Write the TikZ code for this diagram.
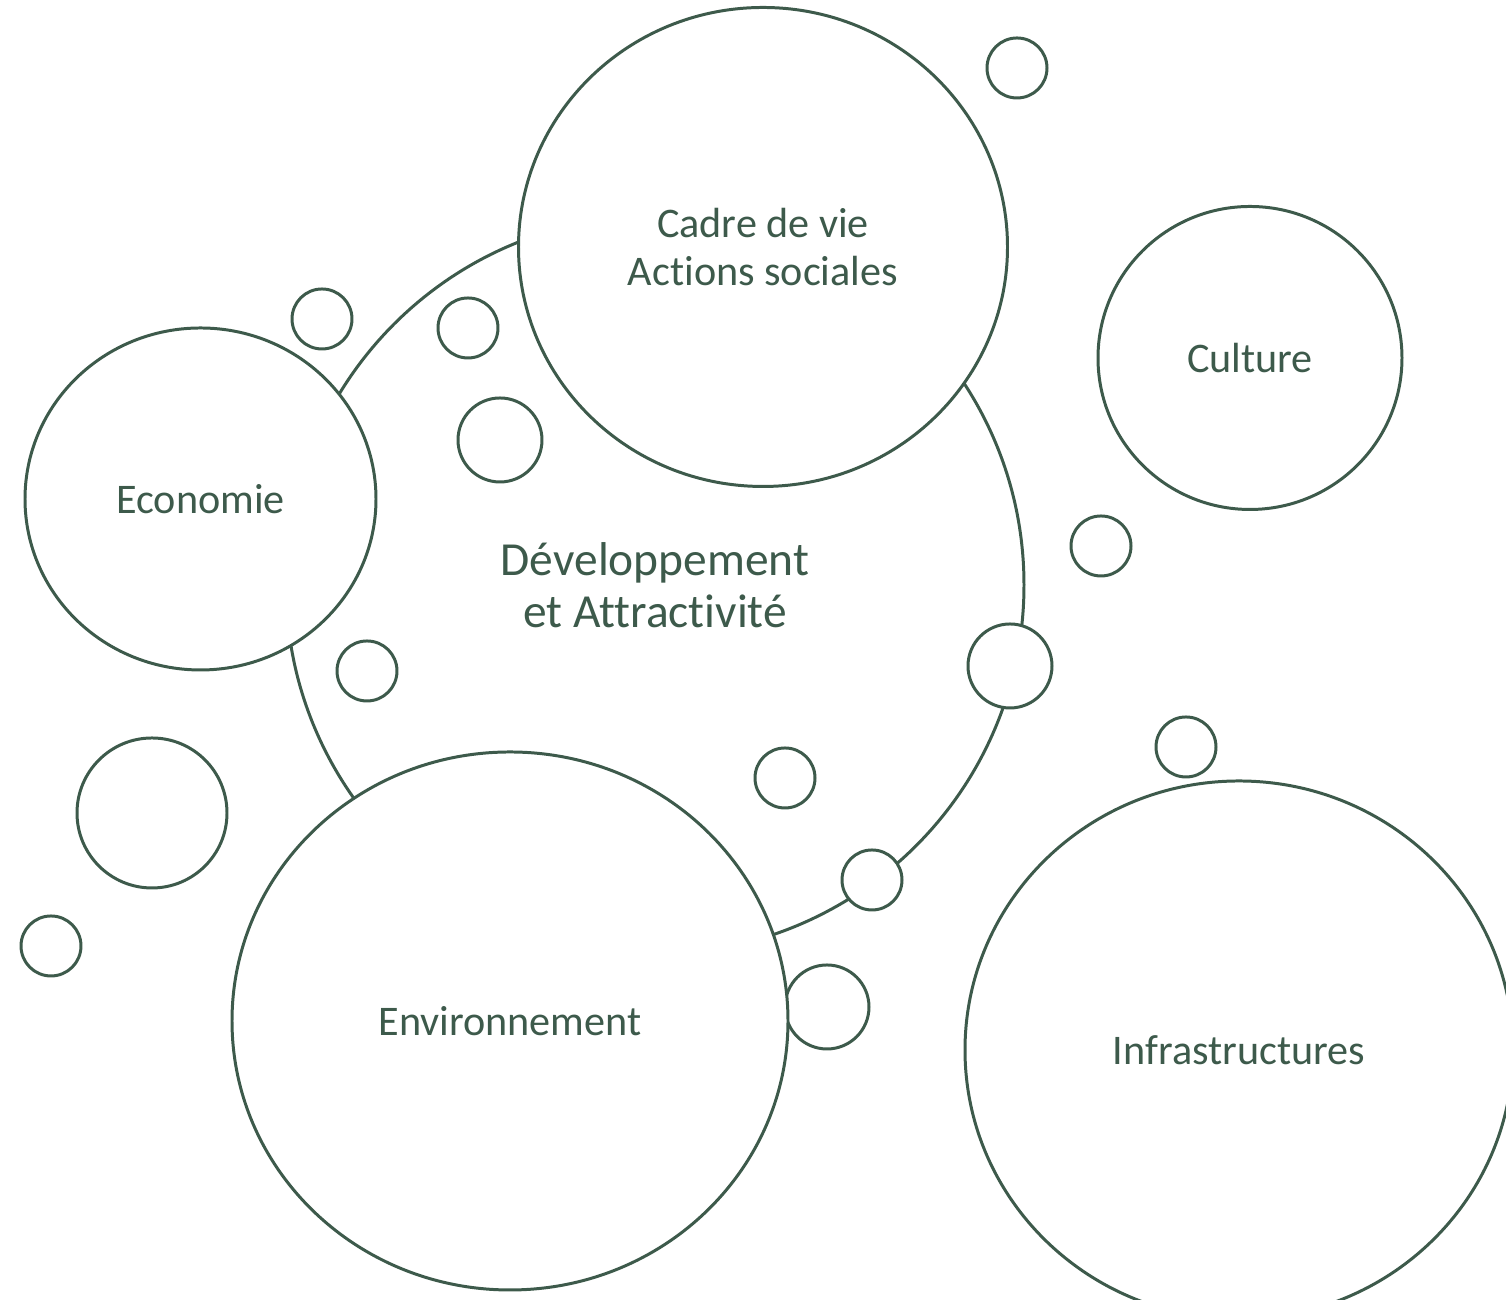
\documentclass[tikz,border=0pt]{standalone}
\usepackage{fontspec}
\setmainfont{Carlito}[Ligatures=NoCommon]
\usepackage{tikz}
\usetikzlibrary{positioning, shapes.geometric}
\definecolor{bubbleline}{RGB}{61,90,75}
\tikzset{
    bubble/.style={
        ellipse,
        draw=bubbleline,
        line width=0.85pt,
        fill=white,
        inner sep=0pt,
        align=center,
        text=bubbleline,
        font=\fontsize{12}{13.4}\selectfont
    },
    mainbubble/.style={
        bubble,
        font=\fontsize{13.5}{14.8}\selectfont
    },
    dot/.style={
        bubble
    }
}

\begin{document}
\begin{tikzpicture}
\clip (0,0) rectangle (15.06,13);
% central theme
\node[mainbubble, minimum width=7.38cm, minimum height=7.38cm] (dev) at (6.55,7.15) {D\'eveloppement\\et Attractivit\'e};

% small bubbles
\foreach \name/\x/\y/\r in {dot1/10.17/12.32/0.30, dot2/3.22/9.81/0.30, dot3/4.68/9.72/0.30,
    dot4/5.00/8.60/0.42, dot5/11.01/7.54/0.30, dot6/3.67/6.29/0.30, dot7/10.10/6.34/0.42,
    dot8/11.86/5.53/0.30, dot9/7.85/5.22/0.30, dot10/1.52/4.87/0.75, dot11/8.72/4.20/0.30,
    dot12/0.51/3.54/0.30, dot13/8.27/2.93/0.42}
    \node[dot, minimum width=2*\r cm, minimum height=2*\r cm] (\name) at (\x,\y) {};

% themes
\node[bubble, minimum width=4.89cm, minimum height=4.79cm] (cadre) at (7.63,10.53) {Cadre de vie\\Actions sociales};
\node[bubble, minimum width=3.04cm, minimum height=3.03cm] (culture) at (12.50,9.42) {Culture};
\node[bubble, minimum width=3.51cm, minimum height=3.42cm] (eco) at (2.005,8.01) {Economie};
\node[bubble, minimum width=5.56cm, minimum height=5.38cm] (env) at (5.10,2.79) {Environnement};
\node[bubble, minimum width=5.48cm, minimum height=5.38cm] (infra) at (12.39,2.50) {Infrastructures};
\end{tikzpicture}
\end{document}
